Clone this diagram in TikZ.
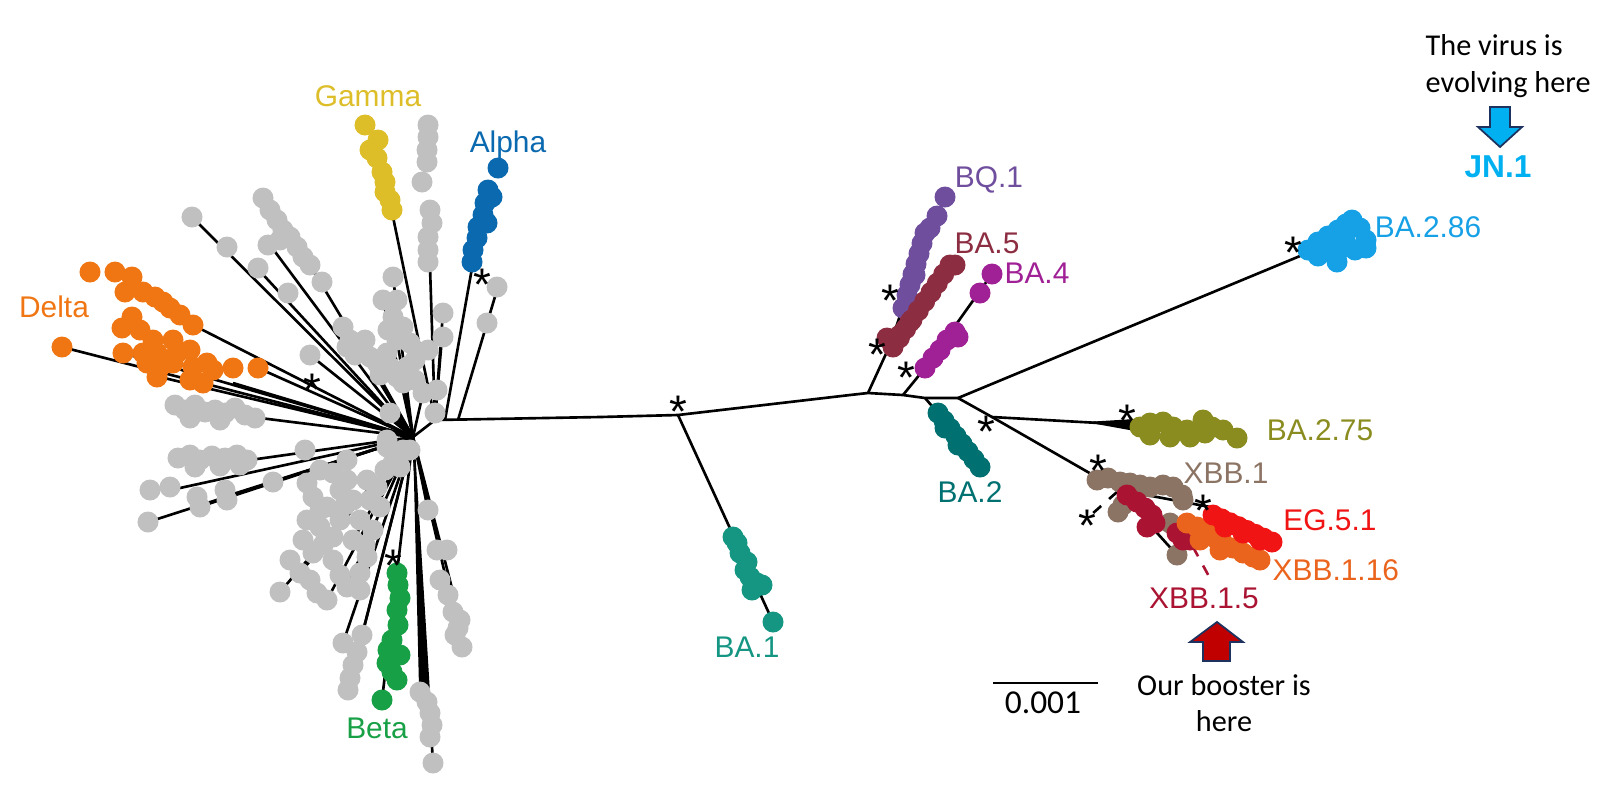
\documentclass[tikz,border=0pt]{standalone}
\usepackage{fontspec}
\setmainfont{Liberation Sans}
\newfontfamily\calibri{Carlito}
\usetikzlibrary{calc}

\definecolor{grayc}{RGB}{192,192,192}
\definecolor{gammac}{RGB}{221,190,40}
\definecolor{alphac}{RGB}{10,105,175}
\definecolor{deltac}{RGB}{240,118,20}
\definecolor{betac}{RGB}{24,160,70}
\definecolor{baonec}{RGB}{20,150,130}
\definecolor{bqonec}{RGB}{112,78,158}
\definecolor{bafivec}{RGB}{140,45,65}
\definecolor{bafourc}{RGB}{160,32,150}
\definecolor{batwoc}{RGB}{0,112,112}
\definecolor{eightsixc}{RGB}{22,160,230}
\definecolor{sevenfivec}{RGB}{138,140,32}
\definecolor{xbbonec}{RGB}{140,116,100}
\definecolor{egc}{RGB}{240,20,20}
\definecolor{sixteenc}{RGB}{235,100,30}
\definecolor{xbbfivec}{RGB}{170,20,50}
\definecolor{jnc}{RGB}{0,176,240}
\definecolor{boostc}{RGB}{192,0,0}
\definecolor{edgec}{RGB}{30,50,95}

\tikzset{
  branch/.style={black, line width=0.75pt},
  clade/.style={font=\fontsize{8.5}{10}\selectfont, inner sep=0pt},
  support/.style={font=\fontsize{13}{13}\selectfont, inner sep=0pt, yshift=-0.08cm},
  note/.style={font=\calibri\fontsize{8.6}{10.4}\selectfont, inner sep=0pt},
}

% one dot per coordinate, or a row of dots between two points
\newcommand{\tips}[2]{\foreach \p in {#2} \fill[#1] \p circle (0.105cm);}
\newcommand{\tiprow}[4]{%
  \foreach \k [evaluate=\k as \w using \k/#4] in {0,...,#4}
    \fill[#1] ($#2!\w!#3$) circle (0.105cm);}

\begin{document}
\begin{tikzpicture}[x=0.01cm,y=-0.01cm]
  \useasboundingbox (0,0) rectangle (1600,802);

  % backbone
  \coordinate (hubL) at (413,437);
  \coordinate (hubR) at (435,420);
  \coordinate (nBAone) at (678,415);
  \coordinate (nBAfive) at (868,393);
  \coordinate (nBAfour) at (903,395);
  \coordinate (nBAtwo) at (925,398);
  \coordinate (nSplit) at (958,398);
  \coordinate (nSeven) at (992,417);
  \coordinate (nXBB) at (1093,475);
  \draw[branch] (hubL) -- (hubR) -- (600,417) -- (nBAone) -- (850,395)
    -- (nBAfive) -- (nBAfour) -- (nBAtwo) -- (nSplit);

  % left star: lines
  \foreach \p in {(192,217),(270,245),(310,265),(257,268),(310,355),(345,325),
      (370,360),(62,347),(193,325),(258,368),(233,383),(123,353),(160,377),
      (260,418),(250,460),(180,488),(148,522),(230,495),(205,505),(273,482),
      (280,592),(300,573),(327,600),(353,540),(347,587),(343,643),(362,635),
      (348,690),(428,510),(462,647),(455,600),(433,763),(393,277),(383,300),
      (397,340),(423,393)}
    \draw[branch] (hubL) -- \p;
  \foreach \p in {(392,212),(430,267),(443,312),(442,337)}
    \draw[branch] (hubR) -- \p;
  \draw[branch] (hubL) -- (382,700);
  \draw[branch] (472,268) -- (445,420);
  \draw[branch] (497,290) -- (458,420);
  \fill (413,440) -- (419,688) -- (428,688) -- cycle;

  % left star: gray tips
  \tips{grayc}{(192,217),(227,247),(258,268),(288,293),(263,198),(270,210),
    (277,220),(283,230),(290,237),(297,247),(303,257),(310,265),(268,245),
    (280,240),(322,282),(310,355),(343,327),(350,340),(360,347),(370,357),
    (347,347),(377,363),(390,367),(397,377),(403,383),(393,277),(383,300),
    (397,300),(393,317),(403,327),(397,340),(410,343),(387,353),(407,367),
    (443,313),(443,337),(428,350),(437,390),(423,393),(435,413),(390,413),
    (410,450),(387,440),(400,467),(355,355),(365,340),(380,375),(415,360),
    (415,380),(388,330)}
  \tips{grayc}{(428,125),(428,137),(427,150),(427,162),(422,182),(430,210),
    (432,223),(428,237),(428,250),(428,262),(497,287),(487,323)}
  \tips{grayc}{(175,405),(185,410),(195,405),(205,412),(215,410),(225,413),
    (235,408),(245,415),(255,418),(190,418),(220,420),(178,458),(190,455),
    (200,460),(212,456),(225,458),(237,455),(247,460),(195,467),(220,466),
    (240,465),(305,450),(150,490),(170,487),(148,522),(197,497),(200,507),
    (225,490),(227,500),(273,482)}
  \tips{grayc}{(307,483),(313,497),(307,520),(320,527),(303,540),(333,537),
    (313,553),(333,560),(300,573),(280,592),(317,593),(327,600),(347,587),
    (360,573),(367,557),(353,540),(360,520),(353,500),(347,480),(333,473),
    (380,507),(373,530),(327,507),(347,460),(367,480),(387,447),(393,463),
    (403,450),(377,487),(343,643),(362,635),(357,652),(353,665),(350,678),
    (348,690),(320,470),(340,490),(320,510),(340,520),(290,560),(310,580),
    (340,575),(360,590),(370,500),(385,470),(323,545),(345,505),(365,545)}
  \tips{grayc}{(428,510),(437,550),(447,550),(440,580),(448,595),(453,612),
    (460,620),(455,635),(462,647),(458,628),(420,692),(427,702),(430,713),
    (432,725),(430,737),(433,763)}

  % coloured tips on the left
  \tips{gammac}{(365,125),(378,140),(370,150),(377,158),(382,172),(385,182),
    (385,192),(390,200),(392,210)}
  \tips{alphac}{(498,168),(488,190),(485,203),(483,215),(478,227),(477,238),
    (473,250),(472,262),(492,197),(487,223)}
  \tips{deltac}{(90,272),(115,272),(132,277),(125,292),(143,292),(155,297),
    (163,302),(170,308),(180,315),(193,325),(132,317),(122,328),(140,330),
    (153,340),(173,340),(143,353),(157,353),(177,353),(190,350),(147,363),
    (160,367),(173,363),(157,377),(193,367),(207,363),(190,380),(203,383),
    (213,370),(233,368),(258,368),(62,347),(123,353)}
  \tips{betac}{(397,573),(398,585),(400,598),(397,610),(398,625),(392,640),
    (388,650),(387,663),(392,672),(400,655),(397,680),(382,700)}

  % BA.1
  \draw[branch] (nBAone) -- (773,622);
  \tips{baonec}{(733,537),(737,543),(740,553),(747,562),(745,570),(750,577),
    (757,583),(752,590),(762,585),(773,622)}

  % BA.5 and BQ.1
  \coordinate (nBQ) at (890,345);
  \draw[branch] (nBAfive) -- (nBQ) -- (950,266);
  \draw[branch] (nBQ) -- (907,295) -- (945,197);
  \tiprow{bqonec}{(907,295)}{(925,233)}{6}
  \tips{bqonec}{(930,228),(937,216),(945,197),(915,275),(903,308)}
  \tiprow{bafivec}{(893,347)}{(950,265)}{9}
  \tips{bafivec}{(900,335),(910,322),(955,265),(887,338)}
  % BA.4
  \draw[branch] (nBAfour) -- (925,368) -- (992,274);
  \tips{bafourc}{(925,368),(933,358),(940,350),(947,340),(955,332),(958,337),
    (980,293),(992,274)}
  % BA.2
  \draw[branch] (nBAtwo) -- (938,413);
  \tiprow{batwoc}{(938,413)}{(980,467)}{7}
  \tips{batwoc}{(945,428),(958,445)}

  % BA.2.86
  \draw[branch] (nSplit) -- (1300,256);
  \tips{eightsixc}{(1308,250),(1318,242),(1328,236),(1338,230),(1346,224),
    (1352,220),(1360,228),(1366,240),(1366,248),(1355,250),(1342,248),
    (1330,252),(1318,256),(1337,262),(1345,240),(1333,244)}

  % BA.2.75
  \draw[branch] (nSplit) -- (nSeven) -- (1135,425);
  \fill (1085,422) -- (1135,419) -- (1135,431) -- cycle;
  \tips{sevenfivec}{(1140,427),(1150,423),(1163,422),(1173,427),(1187,430),
    (1203,420),(1212,427),(1223,430),(1237,438),(1150,435),(1170,437),
    (1190,437),(1205,433)}

  % XBB family
  \draw[branch] (nSeven) -- (nXBB);
  \draw[branch] (nXBB) -- (1120,490) -- (1210,507);
  \draw[branch] (1120,492) -- (1177,555);
  \draw[branch, dashed] (1117,492) -- (1092,514);
  \draw[xbbfivec, line width=0.75pt, dashed] (1193,547) -- (1212,582);
  \tips{xbbonec}{(1097,480),(1108,478),(1120,482),(1130,483),(1140,485),
    (1150,487),(1163,485),(1173,487),(1182,495),(1183,500),(1118,512),
    (1123,505),(1170,523),(1177,555)}
  \tips{xbbfivec}{(1127,495),(1137,502),(1145,508),(1152,515),(1155,523),
    (1147,527),(1177,533),(1190,540),(1183,540)}
  \tips{sixteenc}{(1187,523),(1197,527),(1207,533),(1215,538),(1223,543),
    (1233,548),(1243,553),(1253,557),(1260,560),(1200,540),(1220,550)}
  \tiprow{egc}{(1213,515)}{(1272,542)}{7}
  \tips{egc}{(1225,527),(1243,533),(1260,540)}

  % bootstrap marks
  \node[support] (sOne) at (312,382) {*};
  \node[support] (sTwo) at (482,277) {*};
  \node[support] (sThree) at (393,558) {*};
  \node[support] (sFour) at (678,404) {*};
  \node[support] (sFive) at (877,347) {*};
  \node[support] (sSix) at (890,293) {*};
  \node[support] (sSeven) at (906,370) {*};
  \node[support] (sEight) at (986,424) {*};
  \node[support] (sNine) at (1127,413) {*};
  \node[support] (sTen) at (1098,463) {*};
  \node[support] (sEleven) at (1087,518) {*};
  \node[support] (sTwelve) at (1203,503) {*};
  \node[support] (sThirteen) at (1293,245) {*};

  % clade names
  \node[clade, text=gammac] (lGamma) at (368,96) {Gamma};
  \node[clade, text=alphac] (lAlpha) at (508,145) {Alpha};
  \node[clade, text=deltac] (lDelta) at (54,307) {Delta};
  \node[clade, text=betac] (lBeta) at (377,728) {Beta};
  \node[clade, text=baonec] (lBAone) at (747,647) {BA.1};
  \node[clade, text=bqonec] (lBQ) at (989,180) {BQ.1};
  \node[clade, text=bafivec] (lBAfive) at (987,243) {BA.5};
  \node[clade, text=bafourc] (lBAfour) at (1037,273) {BA.4};
  \node[clade, text=batwoc] (lBAtwo) at (970,492) {BA.2};
  \node[clade, text=eightsixc] (lEightsix) at (1428,227) {BA.2.86};
  \node[clade, text=sevenfivec] (lSevenfive) at (1320,430) {BA.2.75};
  \node[clade, text=xbbonec] (lXBBone) at (1226,473) {XBB.1};
  \node[clade, text=egc] (lEG) at (1330,520) {EG.5.1};
  \node[clade, text=sixteenc, anchor=west] (lSixteen) at (1272,570) {XBB.1.16};
  \node[clade, text=xbbfivec] (lXBBfive) at (1204,598) {XBB.1.5};

  % scale bar
  \coordinate (barL) at (993,683);
  \coordinate (barR) at (1098,683);
  \draw[line width=0.6pt] (barL) -- (barR);
  \node[note, font=\calibri\fontsize{9.5}{11}\selectfont] (lScale) at (1043,703) {0.001};

  % annotations
  \node[note, anchor=west, align=left] (nVirus) at (1425,66) {The virus is\\evolving here};
  \draw[edgec, fill=jnc, line width=0.5pt] (1490,107) -- (1510,107) -- (1510,127)
    -- (1522,127) -- (1500,147) -- (1478,127) -- (1490,127) -- cycle;
  \node[clade, text=jnc, font=\bfseries\fontsize{9}{10}\selectfont] (lJN) at (1498,167) {JN.1};
  \draw[edgec, fill=boostc, line width=0.5pt] (1217,622) -- (1243,642) -- (1230,642)
    -- (1230,661) -- (1203,661) -- (1203,642) -- (1190,642) -- cycle;
  \node[note, align=center] (nBooster) at (1224,703) {Our booster is\\here};
\end{tikzpicture}
\end{document}
